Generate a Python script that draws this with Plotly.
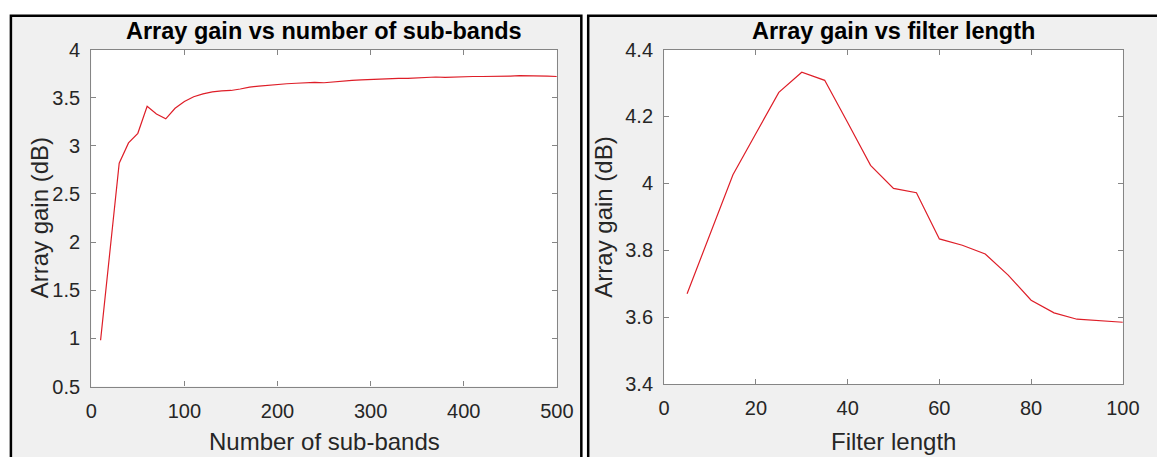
import plotly.graph_objects as go

# ---------------- data ----------------
subbands = list(range(10, 501, 10))
gain_subbands = [
    0.98, 1.90, 2.82, 3.03, 3.13, 3.41, 3.33, 3.28, 3.39, 3.46,
    3.51, 3.54, 3.56, 3.57, 3.575, 3.59, 3.61, 3.62, 3.63, 3.64,
    3.645, 3.65, 3.655, 3.66, 3.655, 3.665, 3.675, 3.68, 3.685, 3.69,
    3.69, 3.695, 3.70, 3.70, 3.705, 3.71, 3.715, 3.71, 3.715, 3.715,
    3.72, 3.72, 3.72, 3.72, 3.725, 3.73, 3.73, 3.725, 3.725, 3.72,
]

filter_len = list(range(5, 101, 5))
gain_filter = [
    3.67, 3.85, 4.026, 4.149, 4.272, 4.332, 4.308, 4.182, 4.054, 3.985,
    3.972, 3.834, 3.815, 3.789, 3.726, 3.651, 3.613, 3.594, 3.589, 3.585,
]

left_xticks = [0, 100, 200, 300, 400, 500]
left_yticks = [0.5, 1, 1.5, 2, 2.5, 3, 3.5, 4]
left_ytext = ["0.5", "1", "1.5", "2", "2.5", "3", "3.5", "4"]
right_xticks = [0, 20, 40, 60, 80, 100]
right_yticks = [3.4, 3.6, 3.8, 4.0, 4.2, 4.4]
right_ytext = ["3.4", "3.6", "3.8", "4", "4.2", "4.4"]

titles = ["Array gain vs number of sub-bands", "Array gain vs filter length"]
xlabels = ["Number of sub-bands", "Filter length"]
ylabel = "Array gain (dB)"

# ---------------- layout constants ----------------
W, H = 1157, 457
FONT = "Liberation Sans, Arial, Helvetica, sans-serif"
AX_COLOR = "#858585"
TXT_COLOR = "#262626"
LINE_RED = "rgb(222,30,40)"

def px(x):
    return x / W

def py(y):
    return 1 - y / H

fig = go.Figure()

fig.add_trace(go.Scatter(x=subbands, y=gain_subbands, mode="lines",
                         line=dict(color=LINE_RED, width=1.2),
                         xaxis="x", yaxis="y", showlegend=False))
fig.add_trace(go.Scatter(x=filter_len, y=gain_filter, mode="lines",
                         line=dict(color=LINE_RED, width=1.2),
                         xaxis="x2", yaxis="y2", showlegend=False))

axis_common = dict(
    showline=True, mirror="allticks", linecolor=AX_COLOR, linewidth=1.2,
    ticks="inside", ticklen=5, tickcolor=AX_COLOR, tickwidth=1,
    showgrid=False, zeroline=False,
    tickfont=dict(family=FONT, size=20, color=TXT_COLOR),
    fixedrange=True, ticklabelstandoff=6,
)

L_X0, L_X1 = 87, 562
R_X0, R_X1 = 671.5, 1139.5
L_Y0, L_Y1 = 40.5, 394.5
R_Y0, R_Y1 = 40.5, 392

fig.update_layout(
    width=W, height=H, autosize=False,
    margin=dict(l=0, r=0, t=0, b=0),
    paper_bgcolor="white", plot_bgcolor="white",
    xaxis=dict(domain=[px(L_X0), px(L_X1)], range=[0, 500],
               tickvals=left_xticks, anchor="y", **axis_common),
    yaxis=dict(domain=[py(L_Y1), py(L_Y0)], range=[0.5, 4],
               tickvals=left_yticks, ticktext=left_ytext, anchor="x", **axis_common),
    xaxis2=dict(domain=[px(R_X0), px(R_X1)], range=[0, 100],
                tickvals=right_xticks, anchor="y2", **axis_common),
    yaxis2=dict(domain=[py(R_Y1), py(R_Y0)], range=[3.4, 4.4],
                tickvals=right_yticks, ticktext=right_ytext, anchor="x2", **axis_common),
)

# panel backgrounds / borders (screenshot frames), then white plot areas
shapes = [
    dict(type="rect", xref="paper", yref="paper", layer="below",
         x0=px(5), x1=px(587), y0=-0.1, y1=py(5),
         fillcolor="#f0f0f0", line=dict(color="black", width=2.5)),
    dict(type="rect", xref="paper", yref="paper", layer="below",
         x0=px(594), x1=1.1, y0=-0.1, y1=py(5),
         fillcolor="#f0f0f0", line=dict(color="black", width=2.5)),
    dict(type="rect", xref="paper", yref="paper", layer="below",
         x0=px(L_X0), x1=px(L_X1), y0=py(L_Y1), y1=py(L_Y0),
         fillcolor="white", line=dict(width=0)),
    dict(type="rect", xref="paper", yref="paper", layer="below",
         x0=px(R_X0), x1=px(R_X1), y0=py(R_Y1), y1=py(R_Y0),
         fillcolor="white", line=dict(width=0)),
]
fig.update_layout(shapes=shapes)

annotations = []
for i, (x0, x1, y0, y1, ylx) in enumerate([(L_X0, L_X1, L_Y0, L_Y1, 34),
                                           (R_X0, R_X1, R_Y0, R_Y1, 610)]):
    cx = px((x0 + x1) / 2)
    annotations.append(dict(text="<b>" + titles[i] + "</b>", x=cx, y=py(21),
                            xref="paper", yref="paper", showarrow=False,
                            xanchor="center", yanchor="middle",
                            font=dict(family=FONT, size=23.5, color="black")))
    annotations.append(dict(text=xlabels[i], x=cx, y=py(452),
                            xref="paper", yref="paper", showarrow=False,
                            xanchor="center", yanchor="middle",
                            font=dict(family=FONT, size=24, color=TXT_COLOR)))
    annotations.append(dict(text=ylabel, x=px(ylx), y=py((y0 + y1) / 2),
                            xref="paper", yref="paper", showarrow=False,
                            textangle=-90, xanchor="center", yanchor="middle",
                            font=dict(family=FONT, size=24, color=TXT_COLOR)))
fig.update_layout(annotations=annotations)

fig.write_html(
    "out.html",
    post_script="document.body.style.margin='0';document.body.style.overflow='hidden';",
)
